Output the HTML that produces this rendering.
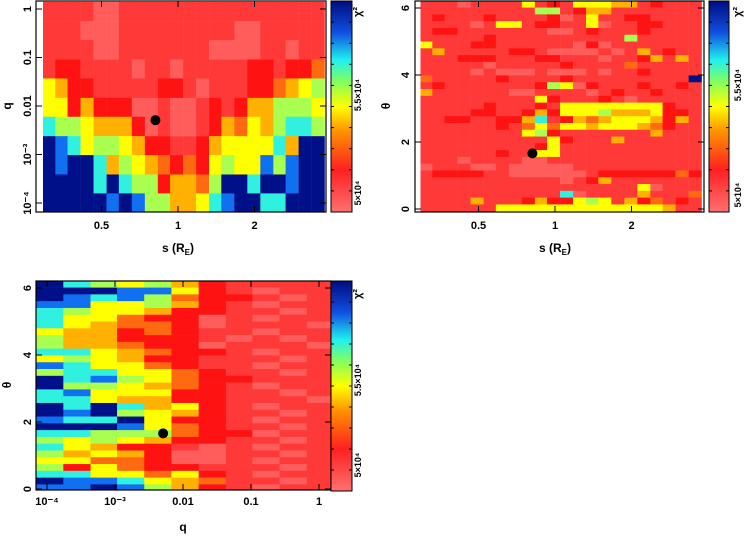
<!DOCTYPE html>
<html><head><meta charset="utf-8"><style>
html,body{margin:0;padding:0;background:#fff;}
svg{display:block;font-family:"Liberation Sans",sans-serif;font-weight:bold;}
</style></head><body>
<svg id="fig" width="754" height="537" viewBox="0 0 754 537" xmlns="http://www.w3.org/2000/svg">
<defs>
<linearGradient id="cb" x1="0" y1="1" x2="0" y2="0">
<stop offset="0" stop-color="#ff7070"/><stop offset="0.2" stop-color="#ff2020"/>
<stop offset="0.38" stop-color="#ff9000"/><stop offset="0.5" stop-color="#ffff00"/>
<stop offset="0.62" stop-color="#80ff60"/><stop offset="0.72" stop-color="#20f0f0"/>
<stop offset="0.85" stop-color="#1050e0"/><stop offset="1" stop-color="#000c80"/>
</linearGradient>
</defs>
</svg>
<script>
// ---- data ----
const palette = ["#ff5c5c","#ff3838","#ff1212","#ff6a10","#ffb000","#ffff00","#a8ff50","#30f0e0","#1070f0","#001088"];
const p1S = [-1.69,-1.52,-1.36,-1.19,-1.02,-0.85,-0.69,-0.52,-0.35,-0.18,-0.02,0.15,0.32,0.49,0.65,0.82,0.99,1.16,1.33,1.49,1.66,1.83];
const p1LogQ = [-0.05,-0.45,-0.84,-1.24,-1.63,-2.03,-2.42,-2.82,-3.21,-3.61,-4.00];
const p1Levels = [
"1111001111111111111111",
"1110001111111110011111",
"1111001111111000011011",
"1221111011011111221223",
"5422111112210111223456",
"5524222001001212446665",
"7665444201001243546776",
"9875665422112455557499",
"9899746543232565586899",
"9999797662443699799899",
"9999989866445789977999"];
const p2Theta = Array.from({length:31},(_,i)=>6.2-i*0.2026);
const p2Levels = [
"1110111151215554412111","1111111116612441111111","1211121111201511221111","1111015512211501122111",
"1221111111001211121111","1111121111111111611111","5111221111110201111111","1411111221000010141211",
"1112221112211101124141","1111101111121111311111","1111010001000101121111","3111112111121111111119",
"1211111112650211121121","4111111001111012112111","1111111115211121011111","1111121112155555555211",
"1111221124255564445221","1122112247124345554241","1111112135355455543211","1111111156211111114111",
"1111111111521114111111","1111111112511111111111","1111112115511111111111","1110111100111111111111",
"0111001000001111111111","1222211000000122222232","1111111111101241111111","1111111111111111150111",
"1111111111170111141113","1111411124225651423121","1111115555555555555411"];
const p3LogQ = [-3.96,-3.56,-3.16,-2.77,-2.37,-1.97,-1.57,-1.17,-0.78,-0.38,0.02];
const p3Levels = [
"97656421111","99988521011","98786322101","88556421011","76554221101","75532201011","75433201110",
"54423211011","64422210101","64432201110","77543221011","56542211101","87553211011","67755321101",
"97865322111","96654321011","78555221101","77544221110","97974521011","98965421101","87795221011",
"99985321101","77666322011","65654221101","75422101011","64542001101","55332001011","62532211101",
"77553521011","98875431101","88986421011"];
const best = {s:0.815, q:0.0051, theta:1.66};
const sTicks = [0.5,1,2], sTickLabels = ["0.5","1","2"];
const qTicks1 = [0,-1,-2,-3,-4], qTickLabels1 = ["1","0.1","0.01","10⁻³","10⁻⁴"];
const thTicks = [0,2,4,6], thTickLabels = ["0","2","4","6"];
const qTicks3 = [-4,-3,-2,-1,0], qTickLabels3 = ["10⁻⁴","10⁻³","0.01","0.1","1"];

// ---- axes ----
const NS="http://www.w3.org/2000/svg", svg=document.getElementById('fig');
function el(t,a,p){const e=document.createElementNS(NS,t);for(const k in a)e.setAttribute(k,a[k]);(p||svg).appendChild(e);return e;}
const sx1 = s => 178 + 76.5*Math.log2(s);
const sx2 = s => 555 + 76.5*Math.log2(s);
const qy1 = lq => 106 - 48.5*(lq+2);
const ty2 = t => 209 - 33.5*t;
const qx3 = lq => 183 - 68*(-2-lq);
const ty3 = t => 489 - 33.5*t;
const cw = 12.8;
const lv = ch => palette[Number(ch)];

function panel(name){
  const g=el('g',{});
  
  
  return g;
}
let g1=panel('panel-s-q');
p1Levels.forEach((row,r)=>{for(let c=0;c<p1S.length;c++){
  const x=sx1(Math.pow(2,p1S[c]))-cw/2, y=qy1(p1LogQ[r]+0.198);
  const e=el('rect',{x:x,y:y,width:cw+0.4,height:19.6,fill:lv(row[c])},g1);
  
  
}});
let g2=panel('panel-s-theta');
p2Levels.forEach((row,r)=>{for(let c=0;c<p1S.length;c++){
  const x=sx2(Math.pow(2,p1S[c]))-cw/2, y=ty2(p2Theta[r])-0.5;
  const e=el('rect',{x:x,y:y,width:cw+0.4,height:7.1,fill:lv(row[c])},g2);
  
  
}});
let g3=panel('panel-q-theta');
p3Levels.forEach((row,r)=>{for(let c=0;c<p3LogQ.length;c++){
  const x=qx3(p3LogQ[c])-13.6, y=ty3(p2Theta[r])-0.5;
  const e=el('rect',{x:x,y:y,width:27.6,height:7.1,fill:lv(row[c])},g3);
  
  
}});
// white masks outside frames
el('rect',{x:325,y:0,width:6,height:215,fill:'#fff'});
el('rect',{x:704,y:0,width:5,height:215,fill:'#fff'});
el('rect',{x:30,y:212.5,width:300,height:6,fill:'#fff'});
el('rect',{x:410,y:212.5,width:300,height:6,fill:'#fff'});
el('rect',{x:30,y:489.5,width:302,height:8,fill:'#fff'});
el('rect',{x:30,y:276,width:302,height:5,fill:'#fff'});
el('rect',{x:30,y:0,width:13,height:215,fill:'#fff'});
el('rect',{x:400,y:0,width:20.5,height:215,fill:'#fff'});
el('rect',{x:10,y:270,width:26,height:230,fill:'#fff'});

function frame(n,x0,y0,x1,y1){const e=el('rect',{x:x0,y:y0,width:x1-x0,height:y1-y0,fill:'none',stroke:'#000','stroke-width':1.2});}
frame('frame-1',36,1,326,212); frame('frame-2',415,1,704,212); frame('frame-3',36,281,331,490);
[[331,1,352,212,'colorbar-1'],[709,1,729,212,'colorbar-2'],[331,281,352,491,'colorbar-3']].forEach(b=>{
  const e=el('rect',{x:b[0],y:b[1],width:b[2]-b[0],height:b[3]-b[1],fill:'url(#cb)',stroke:'#000','stroke-width':1});
   
  for(let i=1;i<10;i++){const y=b[1]+i*(b[3]-b[1])/10;el('line',{x1:b[2]-3,x2:b[2],y1:y,y2:y,stroke:'#000'});el('line',{x1:b[0],x2:b[0]+3,y1:y,y2:y,stroke:'#000'});}
});
function txt(s,x,y,o){const a=Object.assign({x:x,y:y,'font-size':11,'text-anchor':'middle'},o||{});const e=el('text',a);e.textContent=s;return e;}
function ctext(name,s,x,y,size){const e=txt(s,x,y,{transform:`rotate(-90 ${x} ${y})`,'font-size':size||9});}
ctext('colorbar-label-1','χ²',361,12,11);ctext('colorbar-tick-55k-1','5.5×10⁴',361,95);ctext('colorbar-tick-5k-1','5×10⁴',361,193);
ctext('colorbar-label-2','χ²',741,12,11);ctext('colorbar-tick-55k-2','5.5×10⁴',741,85);ctext('colorbar-tick-5k-2','5×10⁴',741,195);
ctext('colorbar-label-3','χ²',361,294,11);ctext('colorbar-tick-55k-3','5.5×10⁴',361,380);ctext('colorbar-tick-5k-3','5×10⁴',361,465);

function tickX(xs,labels,fx,yb,yt,ly,name){xs.forEach((v,i)=>{const x=fx(v);el('line',{x1:x,x2:x,y1:yb,y2:yb-6,stroke:'#000'});el('line',{x1:x,x2:x,y1:yt,y2:yt+6,stroke:'#000'});
 const e=txt(labels[i],x,ly);});}
function tickY(vs,labels,fy,xl,xr,lx,name){vs.forEach((v,i)=>{const y=fy(v);el('line',{x1:xl,x2:xl+6,y1:y,y2:y,stroke:'#000'});el('line',{x1:xr,x2:xr-6,y1:y,y2:y,stroke:'#000'});
 const e=txt(labels[i],lx,y,{transform:`rotate(-90 ${lx} ${y})`});});}
tickX(sTicks,sTickLabels,sx1,212,1,229,'x-tick-label-1');
tickX(sTicks,sTickLabels,sx2,212,1,229,'x-tick-label-2');
tickX(qTicks3,qTickLabels3,qx3,490,281,505,'x-tick-label-3');
tickY(qTicks1,qTickLabels1,qy1,36,326,31,'y-tick-label-1');
tickY(thTicks,thTickLabels,ty2,415,704,409,'y-tick-label-2');
tickY(thTicks,thTickLabels,ty3,36,331,31,'y-tick-label-3');
function sTitle(name,x){const e=el('text',{x:x,y:252,'font-size':12,'text-anchor':'middle'});
  e.innerHTML='s (R<tspan font-size="8" dy="3">E</tspan><tspan dy="-3">)</tspan>';
  }
sTitle('x-axis-title-1',178);sTitle('x-axis-title-2',555);
function lab(name,s,x,y,rot){const e=txt(s,x,y,rot?{transform:`rotate(-90 ${x} ${y})`,'font-size':12}:{'font-size':12});}
lab('y-axis-title-1','q',11,106,true);lab('y-axis-title-2','θ',390,106,true);
lab('x-axis-title-3','q',183,531);lab('y-axis-title-3','θ',11,385,true);
[[sx1(best.s),qy1(Math.log10(best.q))],[sx2(best.s),ty2(best.theta)],[qx3(Math.log10(best.q)),ty3(best.theta)]].forEach(p=>{
  const e=el('circle',{cx:p[0],cy:p[1],r:5,fill:'#000'});
  
  
});
</script>
</body></html>
